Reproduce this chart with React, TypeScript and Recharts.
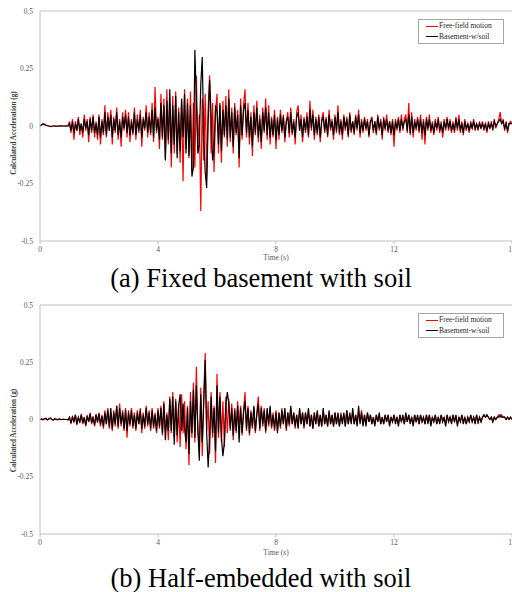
import React from 'react';
import { LineChart, Line, XAxis, YAxis, ReferenceLine, Legend } from 'recharts';

// time step of the records (s); samples run 0 .. 16 s
const dt = 0.05;
const xTicks = [0, 4, 8, 12, 16];
const yTicks = [-0.5, -0.25, 0, 0.25, 0.5];

// (a) fixed basement with soil
const freeFieldA = [
  0, 0.005, 0.01, 0.008, 0.004, 0.002, 0, -0.003, -0.002, 0, 0.001, -0.002, -0.001, 0, 0.001, 0, -0.001, 0, 0.001, 0,
  0.02, -0.03, 0.03, -0.06, 0.02, -0.02, 0.04, -0.04, 0.01, -0.05, 0.05, -0.02, 0.03, -0.07, 0.04, -0.03, 0.05, -0.05, 0.02, -0.06,
  0.05, -0.08, 0.03, -0.04, 0.09, -0.05, 0.06, -0.02, 0.07, -0.08, 0.04, -0.03, 0.08, -0.06, 0.03, -0.09, 0.06, -0.02, 0.07, -0.05,
  0.06, -0.07, 0.03, -0.04, 0.08, -0.06, 0.05, -0.03, 0.07, -0.09, 0.04, -0.02, 0.09, -0.05, 0.06, -0.04, 0.1, -0.07, 0.17, -0.03,
  0.04, -0.1, 0.14, -0.06, 0.12, -0.14, 0.16, -0.08, 0.1, -0.18, 0.13, -0.12, 0.15, -0.12, 0.08, -0.16, 0.11, -0.24, 0.16, -0.1,
  0.12, -0.14, 0.15, -0.2, 0.1, -0.18, 0.22, -0.1, 0.05, -0.37, 0.12, -0.15, 0.14, -0.22, 0.08, 0.22, -0.12, 0.1, -0.2, 0.06,
  0.14, -0.12, 0.09, -0.16, 0.11, -0.05, 0.13, -0.09, 0.16, -0.07, 0.08, -0.12, 0.1, -0.04, 0.07, -0.18, 0.12, -0.06, 0.09, 0.16,
  -0.05, 0.1, -0.08, 0.06, -0.13, 0.09, -0.04, 0.11, -0.07, 0.05, -0.1, 0.08, -0.03, 0.12, -0.06, 0.09, -0.08, 0.04, -0.05, 0.07,
  -0.1, 0.04, -0.06, 0.07, -0.03, 0.05, -0.07, 0.02, 0.06, -0.05, 0.08, -0.04, 0.03, -0.08, 0.06, 0.09, -0.02, 0.05, -0.07, 0.04,
  -0.03, 0.06, -0.05, 0.11, -0.02, 0.07, -0.06, 0.04, -0.04, 0.05, -0.07, 0.03, 0.06, -0.03, 0.04, -0.05, 0.07, -0.02, 0.03, -0.06,
  0.05, -0.03, 0.09, -0.04, 0.03, -0.06, 0.05, -0.02, 0.04, -0.05, 0.06, -0.03, 0.02, -0.04, 0.05, -0.02, 0.07, -0.05, 0.03, -0.03,
  0.04, -0.02, 0.03, -0.05, 0.02, 0.04, -0.03, 0.02, -0.04, 0.05, -0.02, 0.03, -0.06, 0.04, -0.02, 0.05, -0.03, 0.02, -0.04, 0.03,
  -0.09, 0.03, -0.02, 0.04, -0.03, 0.05, -0.02, 0.03, 0.05, -0.03, 0.1, -0.04, 0.06, -0.05, 0.03, -0.02, 0.04, -0.03, 0.05, -0.06,
  0.03, -0.08, 0.04, -0.02, 0.05, -0.03, 0.02, -0.04, 0.03, -0.02, 0.04, -0.03, 0.02, -0.05, 0.03, -0.02, 0.04, -0.02, 0.03, -0.03,
  0.02, -0.03, 0.04, -0.02, 0.05, -0.03, 0.02, -0.04, 0.03, -0.02, 0.01, -0.03, 0.02, -0.01, 0.03, -0.02, 0.01, -0.02, 0.02, -0.01,
  0.02, -0.02, 0.01, -0.03, 0.02, -0.01, 0.02, -0.02, 0.03, -0.01, 0.01, 0.03, 0.06, 0.01, 0.03, -0.02, 0.02, -0.03, 0.01, 0.02,
  0.01,
];
const basementA = [
  0, 0.004, 0.008, 0.006, 0.003, 0.001, 0, -0.002, -0.001, 0, 0, -0.001, 0, 0, 0.001, 0, 0, 0, 0, 0,
  0.01, -0.02, 0.02, -0.03, 0.01, -0.02, 0.03, -0.02, 0.01, -0.03, 0.03, -0.01, 0.02, -0.04, 0.03, -0.02, 0.04, -0.03, 0.01, -0.04,
  0.04, -0.05, 0.02, -0.03, 0.06, -0.04, 0.04, -0.02, 0.05, -0.05, 0.03, -0.02, 0.06, -0.04, 0.02, -0.05, 0.04, -0.01, 0.05, -0.03,
  0.04, -0.04, 0.02, -0.03, 0.06, -0.04, 0.03, -0.02, 0.05, -0.05, 0.03, -0.01, 0.06, -0.03, 0.04, -0.03, 0.07, -0.05, 0.08, -0.02,
  0.03, -0.06, 0.1, -0.05, 0.09, -0.15, 0.11, -0.06, 0.16, -0.12, 0.09, -0.08, 0.13, -0.14, 0.06, -0.11, 0.12, -0.05, 0.14, -0.12,
  0.1, -0.13, 0.09, -0.22, -0.18, 0.33, 0.12, -0.12, -0.08, 0.18, 0.3, -0.05, -0.2, -0.27, 0.02, 0.2, 0.05, -0.15, -0.1, 0.09,
  0.06, -0.08, 0.1, -0.11, 0.07, -0.04, 0.09, -0.06, 0.12, -0.05, 0.06, -0.09, 0.08, -0.03, 0.05, -0.14, 0.09, -0.04, 0.07, 0.1,
  -0.03, 0.07, -0.05, 0.04, -0.09, 0.06, -0.03, 0.08, -0.05, 0.03, -0.07, 0.06, -0.02, 0.08, -0.04, 0.06, -0.05, 0.03, -0.04, 0.05,
  -0.06, 0.03, -0.04, 0.05, -0.02, 0.04, -0.05, 0.02, 0.04, -0.03, 0.06, -0.03, 0.02, -0.05, 0.04, 0.06, -0.02, 0.03, -0.05, 0.03,
  -0.02, 0.04, -0.04, 0.07, -0.01, 0.05, -0.04, 0.03, -0.03, 0.04, -0.05, 0.02, 0.04, -0.02, 0.03, -0.04, 0.05, -0.01, 0.02, -0.04,
  0.04, -0.02, 0.06, -0.03, 0.02, -0.04, 0.04, -0.01, 0.03, -0.04, 0.05, -0.02, 0.02, -0.03, 0.04, -0.01, 0.05, -0.03, 0.02, -0.02,
  0.03, -0.01, 0.02, -0.04, 0.02, 0.03, -0.02, 0.02, -0.03, 0.04, -0.01, 0.02, -0.04, 0.03, -0.01, 0.03, -0.02, 0.02, -0.03, 0.02,
  -0.04, 0.02, -0.01, 0.03, -0.02, 0.03, -0.01, 0.02, 0.03, -0.02, 0.05, -0.03, 0.04, -0.03, 0.02, -0.01, 0.03, -0.02, 0.03, -0.03,
  0.02, -0.04, 0.03, -0.01, 0.03, -0.02, 0.01, -0.03, 0.02, -0.01, 0.03, -0.02, 0.01, -0.03, 0.02, -0.01, 0.03, -0.01, 0.02, -0.02,
  0.01, -0.02, 0.03, -0.01, 0.03, -0.02, 0.01, -0.03, 0.02, -0.01, 0.01, -0.02, 0.01, -0.01, 0.02, -0.01, 0.01, -0.01, 0.01, -0.01,
  0.01, -0.01, 0.01, -0.02, 0.01, -0.01, 0.01, -0.01, 0.02, 0, 0.01, 0.02, 0.03, 0.01, 0.02, -0.01, 0.01, -0.02, 0.01, 0.01,
  0.01,
];

// (b) half-embedded with soil
const freeFieldB = [
  0, 0.003, -0.002, 0.004, 0.006, -0.002, 0.003, 0.008, 0.002, -0.003, 0.004, 0.002, -0.002, 0.003, 0.001, -0.001, 0.002, 0, 0.001, -0.002,
  0.01, -0.02, 0.015, -0.01, 0.02, -0.025, 0.01, -0.015, 0.025, -0.02, 0.01, -0.03, 0.02, -0.01, 0.03, -0.02, 0.015, -0.03, 0.025, -0.015,
  0.03, -0.03, 0.02, -0.04, 0.04, -0.02, 0.05, -0.04, 0.03, -0.05, 0.04, -0.03, 0.06, -0.04, 0.07, -0.03, 0.04, -0.05, 0.05, -0.08,
  0.04, -0.03, 0.05, -0.04, 0.03, -0.05, 0.04, -0.02, 0.05, -0.06, 0.03, -0.04, 0.06, -0.03, 0.04, -0.05, 0.05, -0.04, 0.03, -0.06,
  0.05, -0.04, 0.06, -0.07, 0.08, -0.05, 0.03, -0.09, 0.1, -0.06, 0.12, -0.08, 0.09, -0.1, 0.07, -0.12, 0.11, -0.06, 0.08, -0.13,
  0.06, -0.2, 0.12, -0.08, 0.16, -0.1, 0.23, -0.05, -0.12, 0.14, -0.16, 0.1, 0.29, -0.05, 0.08, -0.15, 0.12, -0.08, 0.06, -0.19,
  0.2, -0.08, 0.12, -0.1, 0.08, -0.12, 0.1, -0.06, 0.09, -0.05, 0.07, -0.09, 0.05, -0.06, 0.08, -0.04, 0.06, -0.07, 0.04, 0.12,
  -0.05, 0.06, -0.07, 0.04, -0.04, 0.05, -0.06, 0.03, 0.1, -0.05, 0.06, -0.03, 0.05, -0.06, 0.04, -0.03, 0.05, -0.04, 0.03, -0.05,
  0.04, -0.05, 0.03, -0.04, 0.05, -0.02, 0.04, -0.05, 0.03, -0.03, 0.05, -0.02, 0.03, -0.04, 0.02, -0.03, 0.04, -0.02, 0.03, -0.04,
  0.03, -0.02, 0.04, -0.03, 0.02, -0.04, 0.03, -0.02, 0.03, -0.03, 0.02, -0.03, 0.04, -0.02, 0.02, -0.03, 0.03, -0.02, 0.02, -0.03,
  0.03, -0.02, 0.02, -0.03, 0.03, -0.01, 0.02, -0.03, 0.04, -0.02, 0.02, -0.01, 0.03, -0.02, 0.02, -0.02, 0.03, -0.01, 0.04, -0.02,
  0.02, -0.02, 0.03, -0.01, 0.02, -0.02, 0.01, -0.02, 0.02, -0.01, 0.02, -0.02, 0.01, -0.02, 0.02, -0.01, 0.02, -0.02, 0.01, -0.01,
  0.02, -0.01, 0.01, -0.02, 0.02, -0.01, 0.01, -0.02, 0.02, -0.01, 0.02, -0.01, 0.01, -0.02, 0.02, -0.01, 0.01, -0.02, 0.02, -0.01,
  0.01, -0.02, 0.02, -0.01, 0.02, -0.02, 0.01, -0.01, 0.02, -0.02, 0.01, -0.01, 0.02, -0.01, 0.01, -0.02, 0.02, -0.01, 0.01, -0.01,
  0.02, -0.01, 0.01, -0.02, 0.01, -0.01, 0.02, -0.01, 0.01, -0.02, 0.01, -0.01, 0.02, -0.01, 0.01, -0.01, 0.02, -0.02, 0.01, -0.01,
  0.01, 0.02, 0.01, 0.02, 0.01, 0, 0.01, -0.01, 0.01, 0, 0.01, 0.02, 0.01, 0.02, 0.01, 0.01, 0, 0.01, 0, 0.01,
  0,
];
const basementB = [
  0, 0.002, 0, 0.003, 0.004, -0.001, 0.002, 0.005, 0.001, -0.002, 0.003, 0.001, -0.001, 0.002, 0.001, 0, 0.001, 0, 0, -0.001,
  0.01, -0.015, 0.01, -0.01, 0.02, -0.02, 0.01, -0.01, 0.02, -0.015, 0.01, -0.025, 0.015, -0.01, 0.025, -0.015, 0.01, -0.025, 0.02, -0.01,
  0.025, -0.02, 0.015, -0.03, 0.03, -0.02, 0.04, -0.03, 0.05, -0.04, 0.03, -0.02, 0.06, -0.03, 0.05, -0.02, 0.03, -0.04, 0.04, -0.05,
  0.03, -0.02, 0.04, -0.03, 0.02, -0.04, 0.03, -0.02, 0.04, -0.04, 0.02, -0.03, 0.05, -0.02, 0.03, -0.04, 0.04, -0.03, 0.02, -0.05,
  0.04, -0.03, 0.05, -0.06, 0.07, -0.09, 0.02, -0.05, 0.09, -0.05, 0.1, -0.11, 0.08, -0.07, 0.06, 0.11, -0.05, 0.07, -0.04, -0.1,
  0.05, -0.15, 0.08, -0.06, 0.13, -0.08, 0.15, -0.04, -0.18, 0.11, -0.1, 0.07, 0.26, -0.06, -0.21, -0.08, 0.1, -0.06, 0.05, -0.14,
  0.15, -0.06, 0.1, -0.08, -0.16, -0.1, 0.06, 0.12, 0.07, -0.04, 0.05, -0.07, 0.04, -0.05, 0.06, -0.1, 0.05, -0.06, 0.03, 0.08,
  -0.04, 0.05, -0.06, 0.03, -0.03, 0.06, -0.05, 0.02, 0.07, -0.04, 0.05, -0.02, 0.04, -0.05, 0.05, -0.02, 0.06, -0.03, 0.02, -0.04,
  0.03, -0.06, 0.03, -0.03, 0.04, -0.02, 0.05, -0.04, 0.03, -0.02, 0.06, -0.02, 0.03, -0.03, 0.02, -0.04, 0.05, -0.02, 0.03, -0.03,
  0.03, -0.02, 0.05, -0.03, 0.02, -0.04, 0.03, -0.02, 0.04, -0.03, 0.02, -0.03, 0.05, -0.02, 0.02, -0.03, 0.04, -0.02, 0.02, -0.03,
  0.03, -0.02, 0.03, -0.03, 0.02, -0.02, 0.03, -0.03, 0.04, -0.02, 0.03, -0.02, 0.05, -0.02, 0.02, -0.03, 0.06, -0.02, 0.03, -0.03,
  0.02, -0.03, 0.03, -0.01, 0.02, -0.02, 0.01, -0.03, 0.02, -0.01, 0.03, -0.02, 0.01, -0.02, 0.02, -0.01, 0.02, -0.03, 0.01, -0.01,
  0.02, -0.02, 0.01, -0.03, 0.02, -0.01, 0.02, -0.02, 0.03, -0.01, 0.02, -0.02, 0.01, -0.03, 0.02, -0.01, 0.02, -0.02, 0.02, -0.01,
  0.01, -0.02, 0.02, -0.02, 0.02, -0.03, 0.01, -0.01, 0.02, -0.02, 0.01, -0.02, 0.02, -0.01, 0.01, -0.03, 0.02, -0.01, 0.01, -0.02,
  0.02, -0.01, 0.02, -0.03, 0.01, -0.01, 0.02, -0.02, 0.01, -0.02, 0.01, -0.01, 0.02, -0.01, 0.01, -0.02, 0.02, -0.01, 0.01, -0.01,
  0.01, 0.02, 0.01, 0.02, 0.01, 0, 0.01, -0.01, 0.01, 0, 0.01, 0.01, 0.02, 0.01, 0.01, 0.01, 0, 0.01, 0, 0.01,
  0,
];

const serif = '"Liberation Serif", "Times New Roman", serif';
const axisGray = '#bfbfbf';
const tickStyle = { fontSize: 7.5, fill: '#595959', fontFamily: serif };

const buildRows = (ff: number[], bs: number[]) =>
  ff.map((v, i) => ({ t: +(i * dt).toFixed(2), ff: v, bs: bs[i] }));

const LegendBox = () => (
  <div
    style={{
      border: '1px solid #a6a6a6',
      background: '#fff',
      fontFamily: serif,
      fontSize: 7.5,
      color: '#262626',
      padding: '1px 0 1px 7px',
      lineHeight: '10.5px',
      boxSizing: 'border-box',
      width: 86,
    }}
  >
    {[
      { name: 'Free-field motion', color: '#ff0000' },
      { name: 'Basement-w/soil', color: '#000' },
    ].map((e) => (
      <div key={e.name} style={{ display: 'flex', alignItems: 'center', whiteSpace: 'nowrap' }}>
        <span style={{ display: 'inline-block', width: 12, height: 1.3, background: e.color, marginRight: 1 }} />
        {e.name}
      </div>
    ))}
  </div>
);

interface PanelProps {
  top: number;
  height: number;
  ff: number[];
  bs: number[];
  yTitleShift: number;
  xTitleOffset: number;
}

const Panel = ({ top, height, ff, bs, yTitleShift, xTitleOffset }: PanelProps) => {
  const rows = buildRows(ff, bs);
  return (
    <div style={{ position: 'absolute', left: 0, top }}>
      <LineChart width={520} height={height} data={rows} margin={{ top: 11, right: 8, bottom: 0, left: 0 }}>
        <XAxis
          dataKey="t"
          type="number"
          domain={[0, 16]}
          ticks={xTicks}
          interval={0}
          height={32}
          tickSize={3}
          tickMargin={3}
          stroke={axisGray}
          tick={tickStyle}
          label={{
            content: ({ viewBox }: any) => (
              <text
                x={viewBox.x + viewBox.width / 2}
                y={viewBox.y + xTitleOffset}
                textAnchor="middle"
                dominantBaseline="central"
                fontSize={7.5}
                fill="#595959"
                fontFamily={serif}
              >
                Time (s)
              </text>
            ),
          }}
        />
        <YAxis
          type="number"
          domain={[-0.5, 0.5]}
          ticks={yTicks}
          width={40}
          tickLine={false}
          tickSize={5}
          stroke={axisGray}
          tick={tickStyle}
          label={{
            content: ({ viewBox }: any) => {
              const cx = viewBox.x + 14;
              const cy = viewBox.y + viewBox.height / 2 + yTitleShift;
              return (
                <text
                  x={cx}
                  y={cy}
                  transform={`rotate(-90 ${cx} ${cy})`}
                  textAnchor="middle"
                  dominantBaseline="central"
                  fontSize={7.2}
                  fontWeight="bold"
                  fill="#404040"
                  fontFamily={serif}
                >
                  Calculated Acceleration (g)
                </text>
              );
            },
          }}
        />
        <ReferenceLine y={0.5} stroke={axisGray} />
        <Line dataKey="ff" name="Free-field motion" stroke="#ff0000" strokeWidth={1.2} dot={false} isAnimationActive={false} />
        <Line dataKey="bs" name="Basement-w/soil" stroke="#000" strokeWidth={1.2} dot={false} isAnimationActive={false} />
        <Legend
          layout="vertical"
          align="center"
          verticalAlign="middle"
          content={() => <LegendBox />}
          wrapperStyle={{ left: 418, top: 19, width: 86 }}
        />
      </LineChart>
    </div>
  );
};

const captionStyle: React.CSSProperties = {
  position: 'absolute',
  left: 0,
  width: 522,
  textAlign: 'center',
  fontFamily: serif,
  fontSize: 26.5,
  lineHeight: 1,
  color: '#000',
  whiteSpace: 'nowrap',
};

export default function App() {
  return (
    <div style={{ position: 'absolute', left: 0, top: 0, width: 512, height: 592, overflow: 'hidden', background: '#fff' }}>
      <Panel top={0} height={273} ff={freeFieldA} bs={basementA} yTitleShift={7} xTitleOffset={16.5} />
      <div style={{ ...captionStyle, top: 265 }}>(a) Fixed basement with soil</div>
      <Panel top={294} height={272} ff={freeFieldB} bs={basementB} yTitleShift={11} xTitleOffset={18} />
      <div style={{ ...captionStyle, top: 564.5 }}>(b) Half-embedded with soil</div>
    </div>
  );
}
